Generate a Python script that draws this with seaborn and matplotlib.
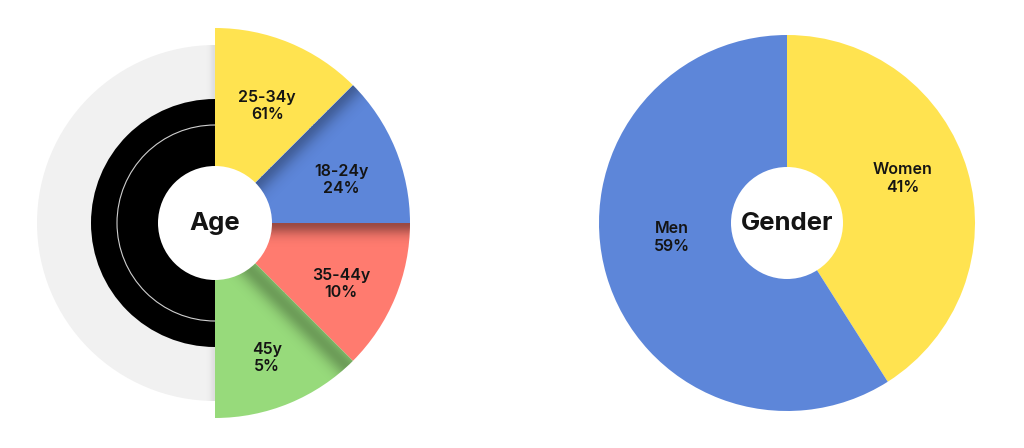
import numpy as np
import matplotlib
matplotlib.use("Agg")
import matplotlib.pyplot as plt
from matplotlib.patches import Circle
import seaborn as sns

# ---- data ----
age_groups = ["25-34y", "18-24y", "35-44y", "45y"]
age_shares = [61, 24, 10, 5]
age_colors = ["#FFE350", "#5D86D9", "#FF7B6F", "#97DA7B"]
gender_groups = ["Women", "Men"]
gender_shares = [41, 59]
gender_colors = ["#FFE350", "#5D86D9"]

sns.set_theme(style="white")
plt.rcParams['font.family'] = ['Inter', 'DejaVu Sans']
TXT = "#141414"

fig = plt.figure(figsize=(10.24, 4.48), dpi=100)
fig.patch.set_facecolor("white")
ax = fig.add_axes([0, 0, 1, 1])

# ---------------- Age chart ----------------
cx, cy = 215, 225
ax.pie([1, 1], radius=178, center=(cx, cy), startangle=90, counterclock=True,
       colors=["#F1F1F1", "none"], wedgeprops=dict(linewidth=0))
ax.pie([1, 1], radius=124, center=(cx, cy), startangle=90, counterclock=True,
       colors=["#000000", "none"], wedgeprops=dict(linewidth=0))
ax.add_patch(Circle((cx, cy), 98, facecolor="none", edgecolor="#cfcfcf", lw=0.8, zorder=3))

# four equal wedges on the right half (infographic layout), labelled with the shares
layout = [1] * len(age_groups) + [len(age_groups)]
labels = [f"{g}\n{s}%" for g, s in zip(age_groups, age_shares)] + [""]
wedges, texts = ax.pie(layout, radius=195, center=(cx, cy), startangle=90,
                       counterclock=False, colors=age_colors + ["none"],
                       labels=labels, labeldistance=0.70,
                       wedgeprops=dict(linewidth=0),
                       textprops=dict(fontsize=11.5, fontweight="semibold", color=TXT,
                                      linespacing=1.2))
for w in wedges:
    w.set_zorder(4)
for t in texts:
    x, y = t.get_position()
    t.set_position((x, y - 9))
    t.set_ha("center"); t.set_va("center"); t.set_zorder(8)

# soft shadow gradients along the upper edges of wedges 2-4
X, Y = np.meshgrid(np.linspace(cx - 200, cx + 200, 400), np.linspace(cy - 200, cy + 200, 400))

def shadow(patch, ang, peak, sigma, amax):
    d = np.array([np.cos(np.radians(ang)), np.sin(np.radians(ang))])
    nrm = np.array([d[1], -d[0]])
    dist = (X - cx) * nrm[0] + (Y - cy) * nrm[1]
    alpha = amax * np.exp(-0.5 * ((dist - peak) / sigma) ** 2)
    alpha[dist < 0] = 0
    img = np.zeros(X.shape + (4,))
    img[..., 3] = alpha
    im = ax.imshow(img, extent=(cx - 200, cx + 200, cy - 200, cy + 200), origin="lower",
                   zorder=5, interpolation="bilinear")
    im.set_clip_path(patch)

shadow(wedges[1], 45, 0, 8.5, 0.30)
shadow(wedges[2], 0, 0, 8, 0.40)
shadow(wedges[3], -45, 8, 8, 0.28)

# faint shadow of the wedges on the grey half
Xg = X - cx
ag = np.zeros(X.shape + (4,))
ag[..., 3] = np.where(Xg <= 0, 0.08 * np.exp(-0.5 * (Xg / 3.5) ** 2), 0)
img_g = ax.imshow(ag, extent=(cx - 200, cx + 200, cy - 200, cy + 200), origin="lower",
                  zorder=2, interpolation="bilinear")
grey_clip = Circle((cx, cy), 178, transform=ax.transData)
img_g.set_clip_path(grey_clip)

ax.add_patch(Circle((cx, cy), 57, facecolor="white", edgecolor="none", zorder=9))
ax.text(cx, cy, "Age", ha="center", va="center", fontsize=18.5, fontweight="bold",
        color=TXT, zorder=10)

# ---------------- Gender chart ----------------
gx, gy = 787, 225
glabels = [f"{g}\n{s}%" for g, s in zip(gender_groups, gender_shares)]
gw, gt = ax.pie(gender_shares, radius=188, center=(gx, gy), startangle=90,
                counterclock=False, colors=gender_colors, labels=glabels,
                labeldistance=0.64, wedgeprops=dict(linewidth=0),
                textprops=dict(fontsize=11.5, fontweight="semibold", color=TXT,
                               linespacing=1.2))
for t, dy in zip(gt, [11, 19]):
    x, y = t.get_position()
    t.set_position((x, y + dy))
    t.set_ha("center"); t.set_va("center"); t.set_zorder(8)
ax.add_patch(Circle((gx, gy), 56, facecolor="white", edgecolor="none", zorder=9))
ax.text(gx, gy, "Gender", ha="center", va="center", fontsize=18.5, fontweight="bold",
        color=TXT, zorder=10)

ax.set_xlim(0, 1024)
ax.set_ylim(0, 448)
ax.set_aspect("equal")
ax.axis("off")

fig.savefig("out.png", dpi=100, facecolor="white")
